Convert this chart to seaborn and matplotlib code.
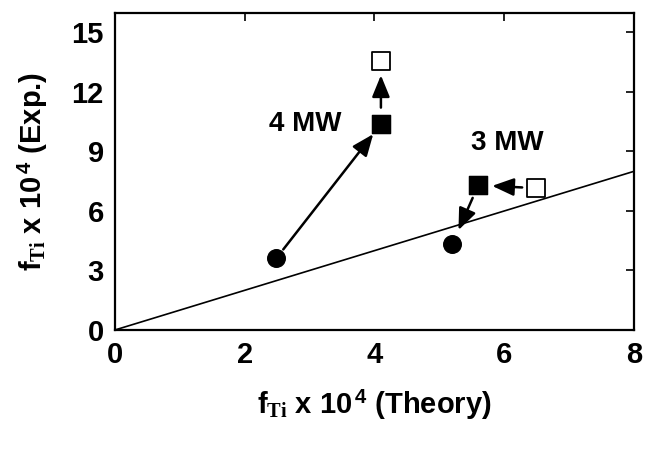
import matplotlib
matplotlib.use("Agg")
import matplotlib.pyplot as plt
import seaborn as sns
import pandas as pd

sns.set_theme(style="white")
plt.rcParams['font.family'] = ['Liberation Sans', 'DejaVu Sans']
plt.rcParams['font.weight'] = 'bold'
plt.rcParams['text.color'] = 'black'
plt.rcParams['axes.labelcolor'] = 'black'
plt.rcParams['xtick.color'] = 'black'
plt.rcParams['ytick.color'] = 'black'
plt.rcParams['mathtext.fontset'] = 'custom'
plt.rcParams['mathtext.rm'] = 'Liberation Serif'
plt.rcParams['mathtext.bf'] = 'Liberation Sans:bold'
plt.rcParams['mathtext.it'] = 'Liberation Serif:italic'

# Data (f_Ti x 10^4)
groups = ["4 MW", "3 MW"]
theory_circle = [2.49, 5.20]
exp_circle = [3.62, 4.33]
theory_filled = [4.10, 5.60]
exp_filled = [10.37, 7.30]
theory_open = [4.10, 6.49]
exp_open = [13.54, 7.15]
line_x = [0, 8]
line_y = [0, 8]
xticks = [0, 2, 4, 6, 8]
yticks = [0, 3, 6, 9, 12, 15]

df = pd.DataFrame({
    "group": groups * 3,
    "theory": theory_circle + theory_filled + theory_open,
    "exp": exp_circle + exp_filled + exp_open,
    "kind": ["circle"] * 2 + ["filled"] * 2 + ["open"] * 2,
})

fig = plt.figure(figsize=(6.45, 4.49), dpi=100)
ax = fig.add_axes([0.178, 0.265, 0.805, 0.707])

sns.lineplot(x=line_x, y=line_y, ax=ax, color="black", lw=1.2)

# Arrows
def arrow(x0, y0, x1, y1, s0, s1):
    ax.annotate("", xy=(x1, y1), xytext=(x0, y0),
                arrowprops=dict(arrowstyle="-|>,head_length=1.1,head_width=0.45",
                                color="black", lw=1.8, shrinkA=s0, shrinkB=s1),
                zorder=2)

# 4 MW: circle -> filled, filled -> open
arrow(theory_circle[0], exp_circle[0], theory_filled[0], exp_filled[0], 8, 9)
arrow(theory_filled[0], exp_filled[0], theory_open[0], exp_open[0], 12, 10)
# 3 MW: open -> filled, filled -> circle
arrow(theory_open[1], exp_open[1], theory_filled[1], exp_filled[1], 10, 10)
arrow(theory_filled[1], exp_filled[1], theory_circle[1], exp_circle[1], 10, 11)

sns.scatterplot(data=df[df.kind == "circle"], x="theory", y="exp", ax=ax,
                marker="o", s=160, color="black", edgecolor="black", zorder=3, legend=False)
sns.scatterplot(data=df[df.kind == "filled"], x="theory", y="exp", ax=ax,
                marker="s", s=180, color="black", edgecolor="black", zorder=3, legend=False)
sns.scatterplot(data=df[df.kind == "open"], x="theory", y="exp", ax=ax,
                marker="s", s=180, facecolor="white", edgecolor="black", linewidth=1.3,
                zorder=3, legend=False)

ax.text(2.94, 10.4, groups[0], fontsize=20, fontweight="bold", ha="center", va="center")
ax.text(6.04, 9.45, groups[1], fontsize=20, fontweight="bold", ha="center", va="center")

ax.set_xlim(0, 8)
ax.set_ylim(0, 16)
ax.set_xticks(xticks)
ax.set_yticks(yticks)
ax.set_xticklabels([str(t) for t in xticks])
ax.set_yticklabels([str(t) for t in yticks])
ax.tick_params(direction="in", length=6, width=1.2, top=True, right=True,
               labelsize=21, pad=8, colors="black")
for lab in ax.get_xticklabels() + ax.get_yticklabels():
    lab.set_fontweight("bold")
for sp in ax.spines.values():
    sp.set_color("black")
    sp.set_linewidth(1.6)

ax.set_xlabel(r"$\mathbf{f}_{\mathrm{Ti}}$ x 10$^{\,\mathbf{4}}$ (Theory)", fontsize=21,
              fontweight="bold", labelpad=14)
ax.set_ylabel(r"$\mathbf{f}_{\mathrm{Ti}}$ x 10$^{\,\mathbf{4}}$ (Exp.)", fontsize=21,
              fontweight="bold", labelpad=15)

fig.savefig("out.png", dpi=100)
